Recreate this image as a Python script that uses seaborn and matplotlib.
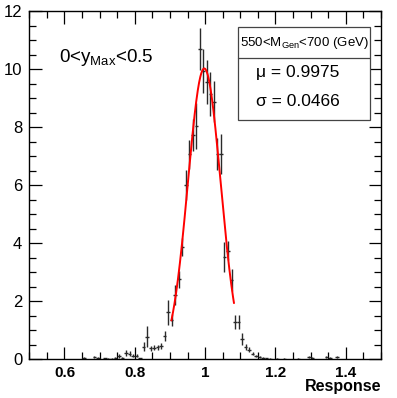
import numpy as np
import pandas as pd
import matplotlib
matplotlib.use("Agg")
import matplotlib.pyplot as plt
import seaborn as sns
from matplotlib.patches import Rectangle
from matplotlib.lines import Line2D
from matplotlib.ticker import MultipleLocator, FixedLocator, FixedFormatter

# ---------------- data ----------------
bin_center = [0.655, 0.685, 0.695, 0.715, 0.725, 0.735, 0.745, 0.755, 0.765,
              0.775, 0.785, 0.795, 0.805, 0.815, 0.825, 0.835, 0.845, 0.855,
              0.865, 0.875, 0.885, 0.895, 0.905, 0.915, 0.925, 0.935, 0.945,
              0.955, 0.965, 0.975, 0.985, 0.995, 1.005, 1.015, 1.025, 1.035,
              1.045, 1.055, 1.065, 1.075, 1.085, 1.095, 1.105, 1.115, 1.125,
              1.135, 1.145, 1.155, 1.165, 1.175, 1.185, 1.205, 1.225, 1.265,
              1.295, 1.305, 1.345, 1.355, 1.375]
bin_value = [0.05, 0.07, 0.04, 0.03, 0.02, 0.02, 0.04, 0.12, 0.05,
             0.22, 0.20, 0.13, 0.12, 0.03, 0.44, 0.78, 0.38, 0.40,
             0.41, 0.45, 0.81, 1.62, 1.35, 2.22, 2.76, 3.88, 6.01,
             7.07, 7.72, 8.05, 10.69, 9.95, 9.56, 9.15, 8.88, 7.08,
             7.08, 3.52, 3.75, 2.73, 1.30, 1.28, 0.70, 0.43, 0.33,
             0.20, 0.11, 0.07, 0.04, 0.03, 0.02, 0.02, 0.02, 0.02,
             0.08, 0.05, 0.08, 0.05, 0.07]
bin_error = [0.03, 0.04, 0.03, 0.02, 0.02, 0.02, 0.03, 0.06, 0.03,
             0.09, 0.07, 0.06, 0.05, 0.02, 0.15, 0.37, 0.08, 0.09,
             0.09, 0.10, 0.17, 0.44, 0.20, 0.34, 0.29, 0.32, 0.52,
             0.50, 0.55, 0.80, 0.72, 0.76, 0.75, 0.75, 0.70, 0.55,
             0.70, 0.52, 0.34, 0.37, 0.24, 0.24, 0.20, 0.10, 0.08,
             0.06, 0.04, 0.04, 0.03, 0.02, 0.02, 0.02, 0.02, 0.02,
             0.05, 0.03, 0.05, 0.03, 0.04]
bin_half_width = 0.005

fit_mu = 0.9975
fit_sigma = 0.0466
fit_amp = 10.03
fit_range = (0.904, 1.082)

x_ticks = [0.6, 0.8, 1.0, 1.2, 1.4]
x_tick_labels = ["0.6", "0.8", "1", "1.2", "1.4"]
y_ticks = [0, 2, 4, 6, 8, 10, 12]
y_tick_labels = ["0", "2", "4", "6", "8", "10", "12"]

# ---------------- plotting ----------------
sns.set_style("ticks")
plt.rcParams["font.family"] = ["Liberation Sans", "DejaVu Sans"]
plt.rcParams["mathtext.fontset"] = "custom"
plt.rcParams["mathtext.rm"] = "Liberation Sans"
plt.rcParams["mathtext.it"] = "Liberation Sans"
plt.rcParams["text.color"] = "black"
plt.rcParams["xtick.labelcolor"] = "black"
plt.rcParams["ytick.labelcolor"] = "black"

fig = plt.figure(figsize=(3.97, 3.98), dpi=100)
ax = fig.add_axes([0.0738, 0.0972, 0.8859, 0.8744])

df = pd.DataFrame({"x": bin_center, "y": bin_value, "err": bin_error})
ax.errorbar(df["x"], df["y"], yerr=df["err"], xerr=bin_half_width,
            fmt="none", ecolor="#2a2a2a", elinewidth=1.0, capsize=0)

xf = np.linspace(fit_range[0], fit_range[1], 200)
fit_df = pd.DataFrame({"x": xf,
                       "y": fit_amp * np.exp(-0.5 * ((xf - fit_mu) / fit_sigma) ** 2)})
sns.lineplot(data=fit_df, x="x", y="y", color="#ff0000", linewidth=1.4, ax=ax)

ax.set_xlim(0.5, 1.5)
ax.set_ylim(0, 12)
ax.set_xlabel("")
ax.set_ylabel("")

ax.xaxis.set_major_locator(FixedLocator(x_ticks))
ax.xaxis.set_major_formatter(FixedFormatter(x_tick_labels))
ax.xaxis.set_minor_locator(MultipleLocator(0.05))
ax.yaxis.set_major_locator(FixedLocator(y_ticks))
ax.yaxis.set_major_formatter(FixedFormatter(y_tick_labels))
ax.yaxis.set_minor_locator(MultipleLocator(0.5))

ax.tick_params(which="both", direction="in", top=True, right=True,
               color="black", width=0.9, labelcolor="black")
ax.tick_params(which="major", length=9)
ax.tick_params(which="minor", length=5)
ax.tick_params(axis="y", which="major", labelsize=12, pad=5)
ax.tick_params(axis="x", which="major", labelsize=11, pad=5)
for lab in ax.get_xticklabels():
    lab.set_fontweight("bold")
for s in ax.spines.values():
    s.set_linewidth(1.0)
    s.set_color("black")

ax.text(1.0, -0.079, "Response", transform=ax.transAxes, ha="right", va="center",
        fontsize=11.5, fontweight="bold")

ax.text(0.085, 0.855, r"0<y$_{\mathregular{Max}}$<0.5", transform=ax.transAxes,
        ha="left", va="baseline", fontsize=13.5)

# legend-like box
bx0, bx1, by0, by1, bdiv = 0.593, 0.969, 0.688, 0.956, 0.865
ax.add_patch(Rectangle((bx0, by0), bx1 - bx0, by1 - by0, transform=ax.transAxes,
                       facecolor="white", edgecolor="#444444", linewidth=0.9, zorder=5))
ax.add_line(Line2D([bx0, bx1], [bdiv, bdiv], transform=ax.transAxes,
                   color="#444444", linewidth=0.9, zorder=6))
ax.text((bx0 + bx1) / 2, 0.908, r"550<M$_{\mathregular{Gen}}$<700 (GeV)",
        transform=ax.transAxes, ha="center", va="center", fontsize=9.5, zorder=7)
ax.text(0.645, 0.825, "\u03bc = 0.9975", transform=ax.transAxes,
        ha="left", va="center", fontsize=12.5, zorder=7)
ax.text(0.645, 0.740, "\u03c3 = 0.0466", transform=ax.transAxes,
        ha="left", va="center", fontsize=12.5, zorder=7)

fig.savefig("out.png", dpi=100)
